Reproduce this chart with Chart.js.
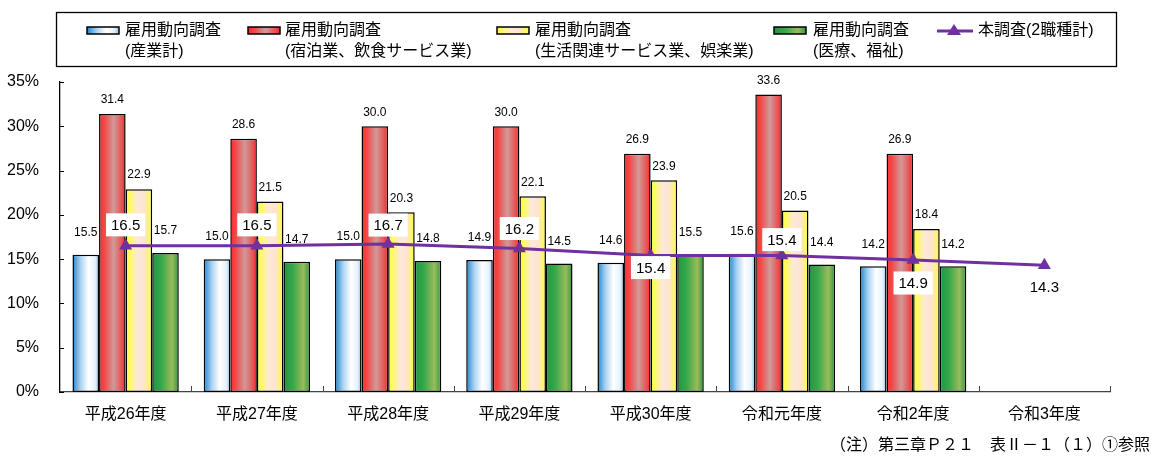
<!DOCTYPE html>
<html>
<head>
<meta charset="utf-8">
<script src="https://cdn.jsdelivr.net/npm/chart.js@4/dist/chart.umd.min.js"></script>
<style>
  body { margin: 0; background: #fff; }
  #wrap { width: 1158px; height: 466px; position: relative; }
</style>
</head>
<body>
<div id="wrap"><canvas id="chart"></canvas></div>
<script>
const categories = ["平成26年度", "平成27年度", "平成28年度", "平成29年度", "平成30年度", "令和元年度", "令和2年度", "令和3年度"];
const overall = [15.5, 15.0, 15.0, 14.9, 14.6, 15.6, 14.2, null];
const lodging = [31.4, 28.6, 30.0, 30.0, 26.9, 33.6, 26.9, null];
const lifestyle = [22.9, 21.5, 20.3, 22.1, 23.9, 20.5, 18.4, null];
const medical = [15.7, 14.7, 14.8, 14.5, 15.5, 14.4, 14.2, null];
const survey = [16.5, 16.5, 16.7, 16.2, 15.4, 15.4, 14.9, 14.3];
const yTicks = [0, 5, 10, 15, 20, 25, 30, 35];

const seriesNames = [
  ["雇用動向調査", "(産業計)"],
  ["雇用動向調査", "(宿泊業、飲食サービス業)"],
  ["雇用動向調査", "(生活関連サービス業、娯楽業)"],
  ["雇用動向調査", "(医療、福祉)"],
  ["本調査(2職種計)"]
];
const note = "（注）第三章Ｐ２１　表Ⅱ－１（１）①参照";

const FONT = '"Liberation Sans", Arial, "Noto Sans CJK JP", sans-serif';
const PURPLE = "#7030a0";

// horizontal gradients for each bar series
const stops = [
  [[0, "#1b86d0"], [0.3, "#a8d2f2"], [0.6, "#ffffff"], [0.85, "#e6f2fc"], [1, "#8cc0ea"]],
  [[0, "#ff2a2a"], [0.2, "#f24848"], [0.55, "#d09a9a"], [0.85, "#e85454"], [1, "#ff2020"]],
  [[0, "#ffff30"], [0.15, "#fffa60"], [0.45, "#fde8da"], [0.7, "#fde4d0"], [1, "#ffff30"]],
  [[0, "#1e9640"], [0.35, "#36a84c"], [0.75, "#9bbb59"], [1, "#2a9a40"]]
];
const CAT_PCT = 0.81;

// label offsets from the value (px, negative = above)
const barLabelGap = [22, 12, 12, 22];
const lineLabelOffset = [-21, -21, -19, -20, 12, -16, 23, 22];

function gradientFor(ctx, si) {
  const chart = ctx.chart;
  const x = chart.scales.x;
  if (!x || !chart.chartArea || ctx.type !== "data") return stops[si][0][1];
  const cw = x.width / categories.length;
  const group = cw * CAT_PCT;
  const bw = group / 4;
  const left = x.getPixelForValue(ctx.dataIndex) - group / 2 + si * bw;
  const g = chart.ctx.createLinearGradient(left, 0, left + bw, 0);
  stops[si].forEach(s => g.addColorStop(s[0], s[1]));
  return g;
}

function legendGradient(c, si, x, w) {
  const g = c.createLinearGradient(x, 0, x + w, 0);
  stops[si].forEach(s => g.addColorStop(s[0], s[1]));
  return g;
}

const extras = {
  id: "extras",
  afterDatasetsDraw(chart) {
    const c = chart.ctx;
    const xs = chart.scales.x;
    const ys = chart.scales.y;
    const area = chart.chartArea;
    c.save();

    // inward tick marks
    c.strokeStyle = "#000";
    c.lineWidth = 1;
    yTicks.forEach(v => {
      const y = Math.round(ys.getPixelForValue(v)) + 0.5;
      c.beginPath(); c.moveTo(area.left, y); c.lineTo(area.left + 4, y); c.stroke();
    });
    c.strokeStyle = "#444";
    const cw = xs.width / categories.length;
    for (let i = 1; i <= categories.length; i++) {
      const x = Math.round(area.left + i * cw) + 0.5;
      c.beginPath(); c.moveTo(x, area.bottom); c.lineTo(x, area.bottom - 6); c.stroke();
    }

    // bar value labels
    c.fillStyle = "#000";
    c.font = "12px " + FONT;
    c.textAlign = "center";
    c.textBaseline = "middle";
    for (let d = 0; d < 4; d++) {
      const meta = chart.getDatasetMeta(d);
      meta.data.forEach((el, i) => {
        const v = chart.data.datasets[d].data[i];
        if (v == null) return;
        c.fillText(v.toFixed(1), el.x, el.y - barLabelGap[d] + (d === 0 || d === 3 ? 0 : -2));
      });
    }

    // line value labels in white boxes
    const lm = chart.getDatasetMeta(4);
    c.font = "15px " + FONT;
    lm.data.forEach((el, i) => {
      const t = survey[i].toFixed(1);
      const w = c.measureText(t).width + 10;
      const cy = el.y + lineLabelOffset[i];
      c.fillStyle = "#fff";
      c.fillRect(el.x - w / 2, cy - 11.5, w, 23);
      c.fillStyle = "#000";
      c.fillText(t, el.x, cy + 1);
    });
    c.restore();
  },
  afterDraw(chart) {
    const c = chart.ctx;
    c.save();
    // legend box
    c.strokeStyle = "#000";
    c.lineWidth = 1.3;
    c.strokeRect(56.5, 12.5, 1060, 54);
    c.font = "16px " + FONT;
    c.textBaseline = "middle";
    c.textAlign = "left";
    const sw = [[87, 125], [248, 285], [497, 535], [774, 813]];
    sw.forEach((p, i) => {
      c.fillStyle = legendGradient(c, i, p[0], 32);
      c.fillRect(p[0], 27, 32, 7);
      c.lineWidth = 1.5;
      c.strokeStyle = "#000";
      c.strokeRect(p[0], 27, 32, 7);
      c.fillStyle = "#000";
      c.fillText(seriesNames[i][0], p[1], 31);
      c.fillText(seriesNames[i][1], p[1], 52);
    });
    c.strokeStyle = PURPLE;
    c.lineWidth = 3;
    c.beginPath(); c.moveTo(937, 31); c.lineTo(973, 31); c.stroke();
    c.fillStyle = PURPLE;
    c.beginPath(); c.moveTo(954, 24); c.lineTo(961, 35); c.lineTo(947, 35); c.closePath(); c.fill();
    c.fillStyle = "#000";
    c.fillText(seriesNames[4][0], 978, 31);

    // note
    c.textAlign = "right";
    c.fillText(note, 1150, 446);
    c.restore();
  }
};

const barSet = (data, si) => ({
  type: "bar",
  data: data,
  order: 1,
  backgroundColor: ctx => gradientFor(ctx, si),
  borderColor: "#000",
  borderWidth: 1.5,
  borderSkipped: false,
  barPercentage: 1,
  categoryPercentage: CAT_PCT
});

new Chart(document.getElementById("chart"), {
  data: {
    labels: categories,
    datasets: [
      barSet(overall, 0),
      barSet(lodging, 1),
      barSet(lifestyle, 2),
      barSet(medical, 3),
      {
        type: "line",
        data: survey,
        order: 0,
        borderColor: PURPLE,
        borderWidth: 3,
        backgroundColor: PURPLE,
        pointStyle: "triangle",
        pointRadius: 7.5,
        pointBorderWidth: 0,
        tension: 0,
        fill: false
      }
    ]
  },
  plugins: [extras],
  options: {
    responsive: true,
    maintainAspectRatio: false,
    animation: false,
    layout: { padding: { top: 82, right: 48, left: 0, bottom: 0 } },
    plugins: { legend: { display: false }, tooltip: { enabled: false } },
    scales: {
      x: {
        grid: { display: false, drawTicks: false },
        border: { display: true, color: "#444", width: 1.3 },
        ticks: { color: "#000", font: { size: 16, family: FONT }, padding: 13, maxRotation: 0 },
        afterFit: s => { s.height = 74; }
      },
      y: {
        min: 0,
        max: 35,
        grid: { display: false, drawTicks: false },
        border: { display: true, color: "#000", width: 1.3 },
        ticks: { stepSize: 5, color: "#000", font: { size: 16, family: FONT }, padding: 21,
                 callback: v => v + "%" },
        afterFit: s => { s.width = 60; }
      }
    }
  }
});
</script>
</body>
</html>
